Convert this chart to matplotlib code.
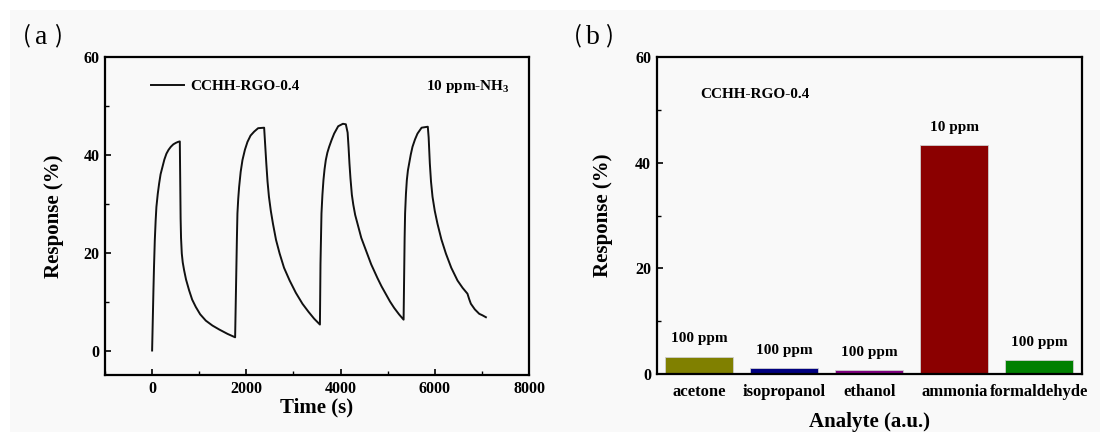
import matplotlib
matplotlib.use("Agg")
import matplotlib.pyplot as plt
from matplotlib.patches import Rectangle
from matplotlib.ticker import MultipleLocator

# ---------------- data ----------------
time_s = [0, 15, 28, 40, 57, 75, 91, 120, 149, 180, 219, 260, 304, 350, 397, 450, 503, 550, 588,
          597, 605, 614, 630, 650, 679, 720, 785, 850, 927, 1020, 1140, 1280, 1423, 1600, 1762,
          1775, 1790, 1800, 1811, 1828, 1847, 1880, 1918, 1970, 2024, 2090, 2166, 2250, 2378,
          2390, 2410, 2424, 2450, 2480, 2520, 2565, 2630, 2707, 2800, 2919, 3050, 3191, 3320, 3439, 3562,
          3568, 3574, 3585, 3595, 3615, 3637, 3660, 3687, 3720, 3758, 3810, 3864, 3950, 4050, 4112,
          4150, 4170, 4189, 4210, 4240, 4270, 4310, 4359, 4440, 4537, 4650, 4783, 4870, 4962, 5050, 5138, 5240, 5338,
          5345, 5352, 5360, 5370, 5388, 5407, 5430, 5456, 5490, 5527, 5580, 5633, 5720, 5852,
          5870, 5885, 5895, 5920, 5952, 6000, 6057, 6140, 6236, 6350, 6482, 6590, 6694, 6730, 6766, 6850, 6943, 7010, 7085]
response = [0, 7.0, 12.3, 17.0, 22.5, 26.5, 29.3, 32.0, 34.1, 36.0, 37.5, 39.0, 40.2, 41.0, 41.6, 42.1, 42.4, 42.6, 42.7,
            35.0, 27.0, 23.0, 19.8, 18.0, 16.4, 14.5, 12.3, 10.4, 8.9, 7.4, 6.1, 5.1, 4.3, 3.4, 2.7,
            10.0, 17.7, 23.0, 28.0, 31.0, 33.4, 36.5, 38.9, 41.0, 42.6, 43.9, 44.7, 45.4, 45.5,
            43.5, 40.5, 38.2, 34.5, 31.4, 28.5, 25.9, 22.6, 19.8, 16.9, 14.3, 11.8, 9.55, 7.9, 6.5, 5.3,
            11.0, 17.7, 23.0, 28.0, 31.8, 34.8, 37.0, 38.9, 40.4, 41.6, 43.0, 44.3, 45.8, 46.3, 46.2,
            44.5, 41.5, 38.2, 35.2, 31.8, 29.8, 27.7, 25.9, 23.0, 20.5, 17.6, 14.8, 13.1, 11.5, 10.0, 8.7, 7.4, 6.3,
            12.0, 17.7, 23.0, 28.0, 32.0, 34.8, 36.8, 38.2, 40.0, 41.6, 43.1, 44.3, 45.5, 45.7,
            43.5, 40.5, 38.2, 34.5, 31.4, 28.5, 25.9, 22.7, 19.8, 16.9, 14.3, 12.8, 11.6, 10.5, 9.55, 8.4, 7.5, 7.2, 6.8]

analytes = ["acetone", "isopropanol", "ethanol", "ammonia", "formaldehyde"]
analyte_resp = [3.3, 1.2, 0.7, 43.4, 2.65]
concentrations = ["100 ppm", "100 ppm", "100 ppm", "10 ppm", "100 ppm"]
bar_colors = ["#808000", "#000080", "#800080", "#8b0000", "#008000"]

# ---------------- style ----------------
SERIF = "Liberation Serif"
plt.rcParams["font.family"] = [SERIF, "DejaVu Serif"]
plt.rcParams["font.weight"] = "bold"
plt.rcParams["axes.labelweight"] = "bold"
plt.rcParams["mathtext.fontset"] = "custom"
plt.rcParams["mathtext.rm"] = SERIF + ":bold"
plt.rcParams["mathtext.it"] = SERIF + ":bold"
plt.rcParams["mathtext.bf"] = SERIF + ":bold"

BG = "#f9f9f9"
fig = plt.figure(figsize=(11, 4.32), dpi=100, facecolor="white")
fig.patches.append(Rectangle((10 / 1100, 0), 1 - 10 / 1100, 1 - 10 / 432,
                             transform=fig.transFigure, facecolor=BG, edgecolor="none", zorder=-10))

ax1 = fig.add_axes([105 / 1100, 1 - 375 / 432, 424 / 1100, 318.3 / 432])
ax2 = fig.add_axes([656.8 / 1100, 1 - 374 / 432, 425.2 / 1100, 316.7 / 432])

for ax in (ax1, ax2):
    ax.set_facecolor("none")
    for sp in ax.spines.values():
        sp.set_linewidth(1.6)
    ax.tick_params(direction="in", which="major", length=4, width=1.2, labelsize=11.5, pad=4)
    ax.tick_params(direction="in", which="minor", length=3, width=1.0)
    ax.tick_params(top=False, right=False, which="both")

# ---------------- panel (a) ----------------
ax1.plot(time_s, response, color="#111111", lw=1.4, label="CCHH-RGO-0.4")
ax1.set_xlim(-1000, 8000)
ax1.set_ylim(-5, 60)
ax1.xaxis.set_major_locator(MultipleLocator(2000))
ax1.xaxis.set_minor_locator(MultipleLocator(1000))
ax1.yaxis.set_major_locator(MultipleLocator(20))
ax1.yaxis.set_minor_locator(MultipleLocator(10))
ax1.set_xlabel("Time (s)", fontsize=15, labelpad=1)
ax1.set_ylabel("Response (%)", fontsize=15, labelpad=14)
ax1.legend(loc="center left", bbox_to_anchor=(0.108, 0.906), frameon=False,
           fontsize=11, handlelength=2.2, handletextpad=0.35, borderpad=0, borderaxespad=0)
ax1.text(0.955, 0.906, "10 ppm-NH$_3$", transform=ax1.transAxes, ha="right", va="center",
         fontsize=11, fontweight="bold")

# ---------------- panel (b) ----------------
xpos = list(range(1, len(analytes) + 1))
ax2.bar(xpos, analyte_resp, width=0.8, color=bar_colors, edgecolor="#cfcfcf", linewidth=0.6)
for x, v, c in zip(xpos, analyte_resp, concentrations):
    ax2.annotate(c, (x, v), xytext=(0, 8), textcoords="offset points",
                 ha="center", va="bottom", fontsize=11, fontweight="bold")
ax2.set_xlim(0.5, 5.5)
ax2.set_ylim(0, 60)
ax2.set_xticks(xpos)
ax2.set_xticklabels(analytes, fontsize=12)
ax2.tick_params(axis="x", length=0, pad=7)
ax2.yaxis.set_major_locator(MultipleLocator(20))
ax2.yaxis.set_minor_locator(MultipleLocator(10))
ax2.set_xlabel("Analyte (a.u.)", fontsize=15, labelpad=9)
ax2.set_ylabel("Response (%)", fontsize=15, labelpad=16)
ax2.text(1.016, 53.0, "CCHH-RGO-0.4", ha="left", va="center", fontsize=11, fontweight="bold")

# panel labels: （a） / （b）
for letter, x0 in (("a", 0), ("b", 551)):
    y = 1 - 36 / 432
    fig.text((x0 + 26.7) / 1100, y, "(", ha="center", va="center", fontsize=17, fontweight="normal",
             family=["Noto Sans CJK SC"])
    fig.text((x0 + 41.5) / 1100, 1 - 37.5 / 432, letter, ha="center", va="center", fontsize=20,
             fontweight="normal")
    fig.text((x0 + 58) / 1100, y, ")", ha="center", va="center", fontsize=17, fontweight="normal",
             family=["Noto Sans CJK SC"])

fig.savefig("out.png", dpi=100, facecolor=fig.get_facecolor())
